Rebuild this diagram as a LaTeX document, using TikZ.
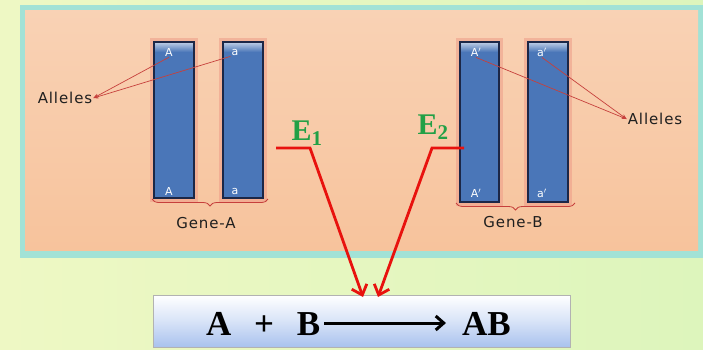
\documentclass[tikz,border=0pt]{standalone}
\usepackage{fontspec}
\setmainfont{Liberation Serif}
\newfontfamily\lblfont[LetterSpace=6]{DejaVu Sans}
\usetikzlibrary{arrows.meta,decorations.pathreplacing}

\definecolor{bggreen}{HTML}{DDF5BC}
\definecolor{bgyellow}{HTML}{EEF8C4}
\definecolor{panelteal}{HTML}{A2E2D6}
\definecolor{peach}{HTML}{F7C39C}
\definecolor{barblue}{HTML}{4A76B8}
\definecolor{barnavy}{HTML}{1C2747}
\definecolor{halored}{HTML}{EE9C88}
\definecolor{enzred}{HTML}{E8120E}
\definecolor{alred}{HTML}{C6403C}
\definecolor{egreen}{HTML}{22A046}
\definecolor{boxblue}{HTML}{A9C2EE}

\tikzset{
  barcap/.style={top color=barblue!35!white, bottom color=barblue, draw=none},
  halo/.style={fill=halored, draw=none, opacity=0.55},
  letter/.style={text=white, font=\lblfont\fontsize{11}{11}\selectfont, inner sep=1pt},
  lbl/.style={text=black!88, font=\lblfont\fontsize{15}{15}\selectfont, inner sep=1pt},
  allelearrow/.style={draw=alred, line width=0.7pt, -{Stealth[length=5pt,width=4pt]}},
  genebrace/.style={draw=alred, line width=0.8pt, decorate, decoration={brace, mirror, amplitude=7pt}},
  enzline/.style={draw=enzred, line width=2.8pt, -{Straight Barb[length=9pt,width=16pt,line width=2.8pt]}},
  enz/.style={text=egreen, font=\bfseries\fontsize{30}{30}\selectfont, inner sep=0pt},
  eqtext/.style={font=\bfseries\fontsize{35}{35}\selectfont, inner sep=0pt}
}

\begin{document}
\begin{tikzpicture}[x=1pt,y=-1pt]
  \useasboundingbox (0,0) rectangle (703,349);

  % background and panel
  \shade[left color=bgyellow, right color=bggreen] (0,0) rectangle (703,349);
  \fill[panelteal] (20,5) rectangle (703,258);
  \shade[top color=peach!75!white, bottom color=peach] (25,10) rectangle (698,250);

  % bars with halo
  \foreach \xa/\xb/\yb in {154/194/198, 223/263/198, 460/499/202, 528/568/202}{
    \fill[halo] (\xa-4,38) rectangle (\xb+4,\yb+4);
    \fill[barblue] (\xa,42) rectangle (\xb,\yb);
    \shade[barcap] (\xa,42) rectangle (\xb,52);
    \draw[barnavy, line width=1.4pt] (\xa,42) rectangle (\xb,\yb);
  }

  % allele letters
  \node[letter] (tA) at (169,52) {A};
  \node[letter] (bA) at (169,191) {A};
  \node[letter] (ta) at (235,52) {a};
  \node[letter] (ba) at (235,191) {a};
  \node[letter] (tAp) at (476,52) {A$'$};
  \node[letter] (bAp) at (476,193) {A$'$};
  \node[letter] (tap) at (542,52) {a$'$};
  \node[letter] (bap) at (542,193) {a$'$};

  \node[lbl] (allL) at (65,98) {Alleles};
  \node[lbl] (allR) at (655,119) {Alleles};

  \draw[allelearrow] (tA.south) -- (allL.east);
  \draw[allelearrow] (ta.south west) -- (allL.east);
  \draw[allelearrow] (tAp.south) -- (allR.west);
  \draw[allelearrow] (tap.south) -- (allR.west);

  % genes
  \draw[genebrace] (152,199) -- (268,199);
  \draw[genebrace] (456,203) -- (575,203);
  \node[lbl] (geneA) at (206,223) {Gene-A};
  \node[lbl] (geneB) at (513,222) {Gene-B};

  % reaction box
  \shade[draw=black!30, top color=white, bottom color=boxblue, middle color=boxblue!45!white] (153,295) rectangle (570,347);
  \node[eqtext, anchor=base west] (lhs) at (206,335) {A\hspace{0.65em}+\hspace{0.65em}B};
  \node[eqtext, anchor=base west] (rhs) at (462,335) {AB};
  \draw[line width=3pt, -{Straight Barb[length=8pt,width=14pt,line width=3pt]}, shorten <=4pt, shorten >=16pt] (lhs.east |- 0,323) -- (rhs.west |- 0,323);

  % enzymes
  \node[enz] (E1) at (307,133) {E$_{\mathbf 1}$};
  \node[enz] (E2) at (433,127) {E$_{\mathbf 2}$};
  \coordinate (e1a) at (276,148);
  \coordinate (e1b) at (310,148);
  \coordinate (e2a) at (464,148);
  \coordinate (e2b) at (432,148);
  \coordinate (hit1) at (363,297);
  \coordinate (hit2) at (378,297);
  \draw[enzline] (e1a) -- (e1b) -- (hit1);
  \draw[enzline] (e2a) -- (e2b) -- (hit2);

\end{tikzpicture}
\end{document}
